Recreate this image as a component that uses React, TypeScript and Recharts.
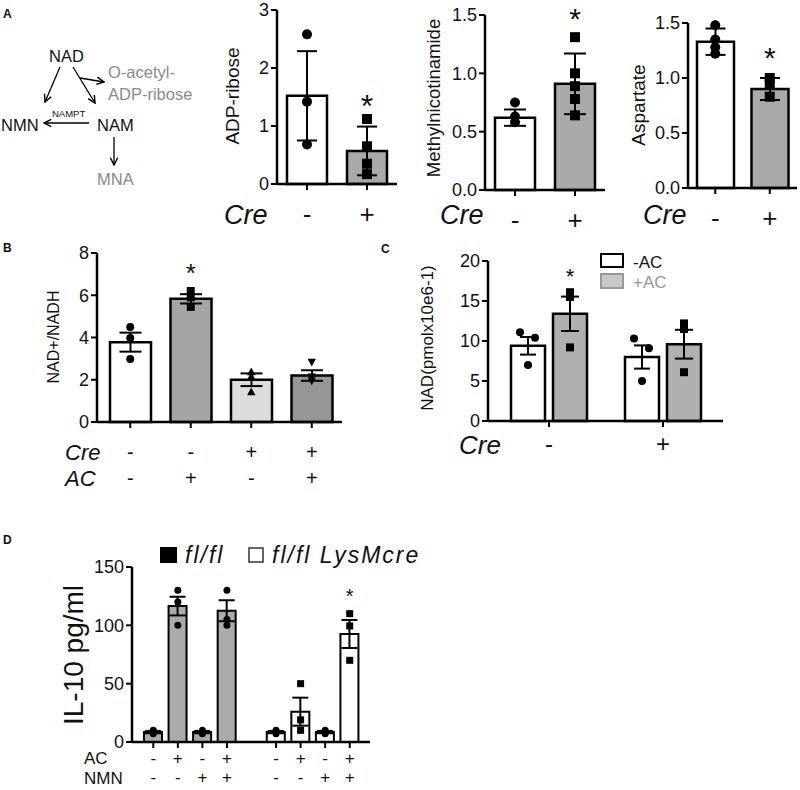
import React from 'react';
import { ComposedChart, Bar, ErrorBar, Scatter, XAxis, YAxis, ReferenceDot, Cell } from 'recharts';

const FONT = '"Liberation Sans", Arial, Helvetica, sans-serif';
const INK = '#111';

// ---------------- Panel A data ----------------
const creA = ['-', '+'];
const adpMean = [1.52, 0.57];
const adpSd = [0.77, 0.42];
const adpPts = [[2.58, 1.42, 0.68], [1.12, 0.65, 0.35, 0.17]];
const adpStar = 1.47;

const mnaMean = [0.62, 0.91];
const mnaSd = [0.07, 0.26];
const mnaPts = [[0.75, 0.63, 0.58], [1.31, 1.0, 0.89, 0.78, 0.64]];
const mnaStar = 1.53;

const aspMean = [1.33, 0.9];
const aspSd = [0.12, 0.1];
const aspPts = [[1.48, 1.35, 1.28, 1.22], [1.0, 0.95, 0.83]];
const aspStar = 1.25;

const ticksAdp = [0, 1, 2, 3];
const ticksHalf = [0, 0.5, 1.0, 1.5];

// ---------------- Panel B data ----------------
const creB = ['-', '-', '+', '+'];
const acB = ['-', '+', '-', '+'];
const ratioMean = [3.78, 5.83, 2.0, 2.2];
const ratioSem = [0.45, 0.22, 0.3, 0.25];
const ratioPts = [[4.5, 3.98, 2.98], [6.2, 5.9, 5.45], [2.37, 2.15, 1.42], [2.84, 2.15, 1.95]];
const ratioStar = 7.35;
const ticksB = [0, 2, 4, 6, 8];

// ---------------- Panel C data ----------------
const creC = ['-', '+'];
const nadMinusMean = [9.4, 8.0];
const nadMinusSem = [1.1, 1.45];
const nadMinusPts = [[11.1, 10.4, 7.0], [10.3, 9.1, 5.0]];
const nadPlusMean = [13.4, 9.6];
const nadPlusSem = [2.15, 1.8];
const nadPlusPts = [[16.1, 15.5, 9.2], [12.2, 11.5, 6.1]];
const nadStar = 18.75;
const ticksC = [0, 5, 10, 15, 20];

// ---------------- Panel D data ----------------
const genoD = ['fl', 'fl', 'fl', 'fl', 'cre', 'cre', 'cre', 'cre'];
const acD = ['-', '+', '-', '+', '-', '+', '-', '+'];
const nmnD = ['-', '-', '+', '+', '-', '-', '+', '+'];
const il10Mean = [8.5, 116.5, 8.5, 112.5, 8.5, 26, 8.5, 92.6];
const il10Sem = [1, 8, 1, 9, 1, 12, 1, 12];
const il10Pts = [[10, 8.5, 7], [130, 120, 100], [10, 8.5, 7], [130, 105, 100], [10, 8.5, 7], [50, 19, 10], [10, 8.5, 7], [110, 99.5, 70]];
const il10Star = 128.5;
const ticksD = [0, 50, 100, 150];

// ---------------- styles ----------------
const fillsA = ['#ffffff', '#a9a9a9'];
const marksA = ['circle', 'square'];
const fillsB = ['#ffffff', '#a5a5a5', '#dcdcdc', '#969696'];
const marksB = ['circle', 'square', 'tri', 'itri'];
const fillGeno: Record<string, string> = { fl: '#ababab', cre: '#ffffff' };
const marksD = ['circle', 'circle', 'circle', 'circle', 'circle', 'square', 'circle', 'square'];

function buildRows(names: string[], mean: number[], err: number[], pts: number[][], marks: string[], fills: string[]) {
  return names.map((name, i) => {
    const r: any = { name, v: mean[i], e: err[i], mk: marks[i], fill: fills[i] };
    pts[i].forEach((p, j) => { r['p' + j] = p; });
    return r;
  });
}

const rowsA1 = buildRows(creA, adpMean, adpSd, adpPts, marksA, fillsA);
const rowsA2 = buildRows(creA, mnaMean, mnaSd, mnaPts, marksA, fillsA);
const rowsA3 = buildRows(creA, aspMean, aspSd, aspPts, marksA, fillsA);
const namesB = creB.map((c, i) => `${c}:${acB[i]}`);
const rowsB = buildRows(namesB, ratioMean, ratioSem, ratioPts, marksB, fillsB);
const rowsC = creC.map((name, i) => {
  const r: any = { name, a: nadMinusMean[i], ae: nadMinusSem[i], b: nadPlusMean[i], be: nadPlusSem[i] };
  nadMinusPts[i].forEach((p, j) => { r['m' + j] = p; });
  nadPlusPts[i].forEach((p, j) => { r['q' + j] = p; });
  return r;
});
const namesD = genoD.map((g, i) => `${g}:${acD[i]}:${nmnD[i]}`);
const rowsDraw = buildRows(namesD, il10Mean, il10Sem, il10Pts, marksD, genoD.map((g) => fillGeno[g]));
const rowsD = [...rowsDraw.slice(0, 4), { name: 'gap' }, ...rowsDraw.slice(4)];

// ---------------- helpers ----------------
function Marker({ kind, cx, cy, size }: { kind: string; cx: number; cy: number; size: number }) {
  const h = size / 2;
  if (kind === 'square') return <rect x={cx - h} y={cy - h} width={size} height={size} fill="#000" />;
  if (kind === 'tri') return <path d={`M${cx},${cy - h * 1.1} L${cx + h * 1.05},${cy + h * 0.8} L${cx - h * 1.05},${cy + h * 0.8} Z`} fill="#000" />;
  if (kind === 'itri') return <path d={`M${cx},${cy + h * 1.1} L${cx + h * 1.05},${cy - h * 0.8} L${cx - h * 1.05},${cy - h * 0.8} Z`} fill="#000" />;
  return <circle cx={cx} cy={cy} r={h} fill="#000" />;
}

const dot = (key: string, size: number, dx = 0, jitter: number[] = [], kind?: string) => (p: any) => {
  const row = p.payload;
  if (!row || row[key] == null || !isFinite(p.cx) || !isFinite(p.cy)) return <g />;
  const j = Number(key.slice(1));
  return <Marker kind={kind || row.mk} cx={p.cx + dx + (jitter[j] || 0)} cy={p.cy} size={size} />;
};

const star = (fs: number, dx = 0) => (p: any) => (
  <text x={p.cx + dx} y={p.cy + fs * 0.57} textAnchor="middle" fontSize={fs} fontFamily={FONT} fill={INK}>*</text>
);

type Line = { dy: number; fs: number };
const rowTick = (lines: Line[], tickLen: number, parse: (v: string) => string[] | null) => (p: any) => {
  const parts = parse(String(p.payload.value));
  if (!parts) return <g />;
  return (
    <g>
      <line x1={p.x} x2={p.x} y1={p.y} y2={p.y + tickLen} stroke="#000" strokeWidth={2} />
      {lines.map((l, i) => (
        <text key={i} x={p.x} y={p.y + l.dy + l.fs * 0.34} textAnchor="middle" fontSize={l.fs} fontFamily={FONT} fill={INK}>{parts[i]}</text>
      ))}
    </g>
  );
};

type Geo = { x0: number; x1: number; yTop: number; yBot: number };
const YW = 60, MT = 30, XH = 70, MR = 12;

function box(g: Geo) {
  return {
    style: { position: 'absolute' as const, left: g.x0 - YW, top: g.yTop - MT },
    width: g.x1 - g.x0 + YW + MR,
    height: g.yBot - g.yTop + MT + XH,
  };
}

const axisStyle = { stroke: '#000', strokeWidth: 2.5 };
const yTickStyle = { fill: INK, fontSize: 18, fontFamily: FONT };

function SimpleBars(props: {
  geo: Geo; data: any[]; ticks: number[]; fmt?: (v: number) => string; barSize: number; capW: number; dotSize: number;
  nPts: number; starX: string; starY: number; starFs: number; tick: any; padL?: number; padR?: number; barStroke?: number;
}) {
  const { geo, data, ticks, fmt, barSize, capW, dotSize, nPts, starX, starY, starFs, tick, padL = 0, padR = 0, barStroke = 2.5 } = props;
  const b = box(geo);
  return (
    <div style={b.style}>
      <ComposedChart width={b.width} height={b.height} data={data} margin={{ top: MT, right: MR, bottom: 0, left: 0 }}>
        <XAxis dataKey="name" type="category" height={XH} axisLine={axisStyle} tickLine={false} tickSize={0} tickMargin={0}
          tick={tick} interval={0} padding={{ left: padL, right: padR }} />
        <YAxis width={YW} type="number" domain={[ticks[0], ticks[ticks.length - 1]]} ticks={ticks} tickFormatter={fmt}
          axisLine={axisStyle} tickLine={{ stroke: '#000', strokeWidth: 2 }} tickSize={6} tickMargin={2} tick={yTickStyle} interval={0} />
        <Bar dataKey="v" barSize={barSize} stroke="#000" strokeWidth={barStroke} isAnimationActive={false}>
          {data.map((r, i) => <Cell key={i} fill={r.fill || 'none'} />)}
          <ErrorBar dataKey="e" width={capW} stroke="#000" strokeWidth={2} direction="y" />
        </Bar>
        {Array.from({ length: nPts }, (_, j) => (
          <Scatter key={j} dataKey={'p' + j} shape={dot('p' + j, dotSize)} isAnimationActive={false} />
        ))}
        <ReferenceDot x={starX} y={starY} ifOverflow="visible" shape={star(starFs)} />
      </ComposedChart>
    </div>
  );
}

function PanelC() {
  const geo: Geo = { x0: 488, x1: 723, yTop: 261, yBot: 421 };
  const b = box(geo);
  const off = 21;
  const tick = rowTick([{ dy: 23, fs: 24 }], 6, (v) => [v]);
  return (
    <div style={b.style}>
      <ComposedChart width={b.width} height={b.height} data={rowsC} margin={{ top: MT, right: MR, bottom: 0, left: 0 }} barGap={8}>
        <XAxis dataKey="name" type="category" height={XH} axisLine={axisStyle} tickLine={false} tickSize={0} tickMargin={0}
          tick={tick} interval={0} padding={{ left: 4, right: 3 }} />
        <YAxis width={YW} type="number" domain={[0, 20]} ticks={ticksC} axisLine={axisStyle}
          tickLine={{ stroke: '#000', strokeWidth: 2 }} tickSize={6} tickMargin={2} tick={yTickStyle} interval={0} />
        <Bar dataKey="a" barSize={34} fill="#ffffff" stroke="#000" strokeWidth={2.5} isAnimationActive={false}>
          <ErrorBar dataKey="ae" width={8} stroke="#000" strokeWidth={2} direction="y" />
        </Bar>
        <Bar dataKey="b" barSize={34} fill="#b0b0b0" stroke="#000" strokeWidth={2.5} isAnimationActive={false}>
          <ErrorBar dataKey="be" width={9} stroke="#000" strokeWidth={2} direction="y" />
        </Bar>
        {[0, 1, 2].map((j) => (
          <Scatter key={'m' + j} dataKey={'m' + j} shape={dot('m' + j, 8, -off, [-8, 7, 0], 'circle')} isAnimationActive={false} />
        ))}
        {[0, 1, 2].map((j) => (
          <Scatter key={'q' + j} dataKey={'q' + j} shape={dot('q' + j, 8, off, [], 'square')} isAnimationActive={false} />
        ))}
        <ReferenceDot x="-" y={nadStar} ifOverflow="visible" shape={star(22, off)} />
      </ComposedChart>
    </div>
  );
}

function T(p: any) {
  const { x, y, children, fs = 16, fill = INK, anchor = 'start', italic = false, bold = false, ls = 0 } = p;
  return (
    <text x={x} y={y} fontSize={fs} fill={fill} textAnchor={anchor} fontStyle={italic ? 'italic' : 'normal'}
      fontWeight={bold ? 'bold' : 'normal'} fontFamily={FONT} letterSpacing={ls}>{children}</text>
  );
}

function VT(p: any) {
  const { x, y, children, fs = 18 } = p;
  return (
    <text transform={`translate(${x},${y}) rotate(-90)`} textAnchor="middle" dominantBaseline="central" fontSize={fs}
      fill={INK} fontFamily={FONT}>{children}</text>
  );
}

function Overlay() {
  const grey = '#8a8a8a';
  return (
    <svg width={800} height={790} style={{ position: 'absolute', left: 0, top: 0 }}>
      <defs>
        <marker id="ah" viewBox="0 0 10 10" refX="9" refY="5" markerWidth="7" markerHeight="7" orient="auto">
          <path d="M1,1 L9,5 L1,9" fill="none" stroke="#000" strokeWidth="1.6" />
        </marker>
      </defs>
      {/* panel letters */}
      <T x={3} y={18} fs={12} bold>A</T>
      <T x={3} y={252} fs={12} bold>B</T>
      <T x={381} y={253} fs={12} bold>C</T>
      <T x={3} y={544} fs={12} bold>D</T>

      {/* pathway diagram */}
      <T x={49} y={62} fs={16.5}>NAD</T>
      <T x={108} y={78} fs={16.5} fill={grey}>O-acetyl-</T>
      <T x={108} y={100} fs={16.5} fill={grey}>ADP-ribose</T>
      <T x={1} y={131} fs={16.5}>NMN</T>
      <T x={97} y={131} fs={16.5}>NAM</T>
      <T x={52} y={117} fs={9.5}>NAMPT</T>
      <T x={97} y={185} fs={16.5} fill={grey}>MNA</T>
      <line x1={60} y1={67} x2={45} y2={102} stroke="#000" strokeWidth={1.3} markerEnd="url(#ah)" />
      <line x1={73} y1={67} x2={95} y2={103} stroke="#000" strokeWidth={1.3} markerEnd="url(#ah)" />
      <line x1={80} y1={78} x2={104} y2={82} stroke="#000" strokeWidth={1.3} markerEnd="url(#ah)" />
      <line x1={89} y1={123} x2={44} y2={123} stroke="#000" strokeWidth={1.3} markerEnd="url(#ah)" />
      <line x1={114} y1={137} x2={114} y2={165} stroke="#000" strokeWidth={1.3} markerEnd="url(#ah)" />

      {/* axis titles */}
      <VT x={232} y={96} fs={19}>ADP-ribose</VT>
      <VT x={433} y={98} fs={18.5}>Methylnicotinamide</VT>
      <VT x={638} y={105} fs={19}>Aspartate</VT>
      <VT x={53} y={337} fs={16}>NAD+/NADH</VT>
      <VT x={427} y={338} fs={17}>NAD(pmolx10e6-1)</VT>
      <VT x={73} y={655} fs={28}>IL-10 pg/ml</VT>

      {/* row labels */}
      <T x={224} y={224} fs={27} italic>Cre</T>
      <T x={440} y={224} fs={27} italic>Cre</T>
      <T x={643} y={224} fs={27} italic>Cre</T>
      <T x={65} y={460} fs={22} italic>Cre</T>
      <T x={65} y={486} fs={22} italic>AC</T>
      <T x={459} y={454} fs={26} italic>Cre</T>
      <T x={84} y={764} fs={17}>AC</T>
      <T x={84} y={784} fs={17}>NMN</T>

      {/* legend C */}
      <rect x={601} y={254} width={22} height={13} fill="#fff" stroke="#000" strokeWidth={2} />
      <rect x={601} y={274} width={22} height={14} fill="#c8c8c8" stroke="#999" strokeWidth={2} />
      <T x={633} y={268} fs={17}>-AC</T>
      <T x={633} y={288} fs={17} fill="#999">+AC</T>

      {/* legend D */}
      <rect x={160} y={547} width={17} height={16} fill="#000" />
      <T x={185} y={563} fs={23} italic ls={2}>fl/fl</T>
      <rect x={249} y={548} width={14} height={14} fill="#fff" stroke="#333" strokeWidth={1.5} />
      <T x={272} y={563} fs={23} italic ls={2}>fl/fl LysMcre</T>
    </svg>
  );
}

export default function App() {
  const tickA = rowTick([{ dy: 30, fs: 26 }], 6, (v) => [v]);
  const tickB = rowTick([{ dy: 30, fs: 20 }, { dy: 56, fs: 20 }], 6, (v) => v.split(':'));
  const tickD = rowTick([{ dy: 16, fs: 17 }, { dy: 35, fs: 17 }], 6, (v) => (v === 'gap' ? null : v.split(':').slice(1)));
  return (
    <div style={{ position: 'absolute', left: 0, top: 0, width: 800, height: 790, overflow: 'hidden', background: '#fff' }}>
      <Overlay />
      <SimpleBars geo={{ x0: 277, x1: 397, yTop: 10, yBot: 184 }} data={rowsA1} ticks={ticksAdp} barSize={40} capW={10}
        dotSize={10} nPts={4} starX="+" starY={adpStar} starFs={32} tick={tickA} />
      <SimpleBars geo={{ x0: 485, x1: 605, yTop: 15, yBot: 190 }} data={rowsA2} ticks={ticksHalf} fmt={(v) => v.toFixed(1)}
        barSize={40} capW={11} dotSize={10} nPts={5} starX="+" starY={mnaStar} starFs={30} tick={tickA} />
      <SimpleBars geo={{ x0: 688, x1: 797, yTop: 23, yBot: 188 }} data={rowsA3} ticks={ticksHalf} fmt={(v) => v.toFixed(1)}
        barSize={37} capW={10} dotSize={10} nPts={4} starX="+" starY={aspStar} starFs={30} tick={tickA} />
      <SimpleBars geo={{ x0: 97, x1: 342, yTop: 253, yBot: 422 }} data={rowsB} ticks={ticksB} barSize={41} capW={11}
        dotSize={8} nPts={3} starX="-:+" starY={ratioStar} starFs={26} tick={tickB} padL={3} />
      <PanelC />
      <SimpleBars geo={{ x0: 132, x1: 370, yTop: 567, yBot: 742 }} data={rowsD} ticks={ticksD} barSize={18} capW={8}
        dotSize={7} nPts={3} starX="cre:+:+" starY={il10Star} starFs={20} tick={tickD} padL={9} padR={8} barStroke={2} />
    </div>
  );
}
